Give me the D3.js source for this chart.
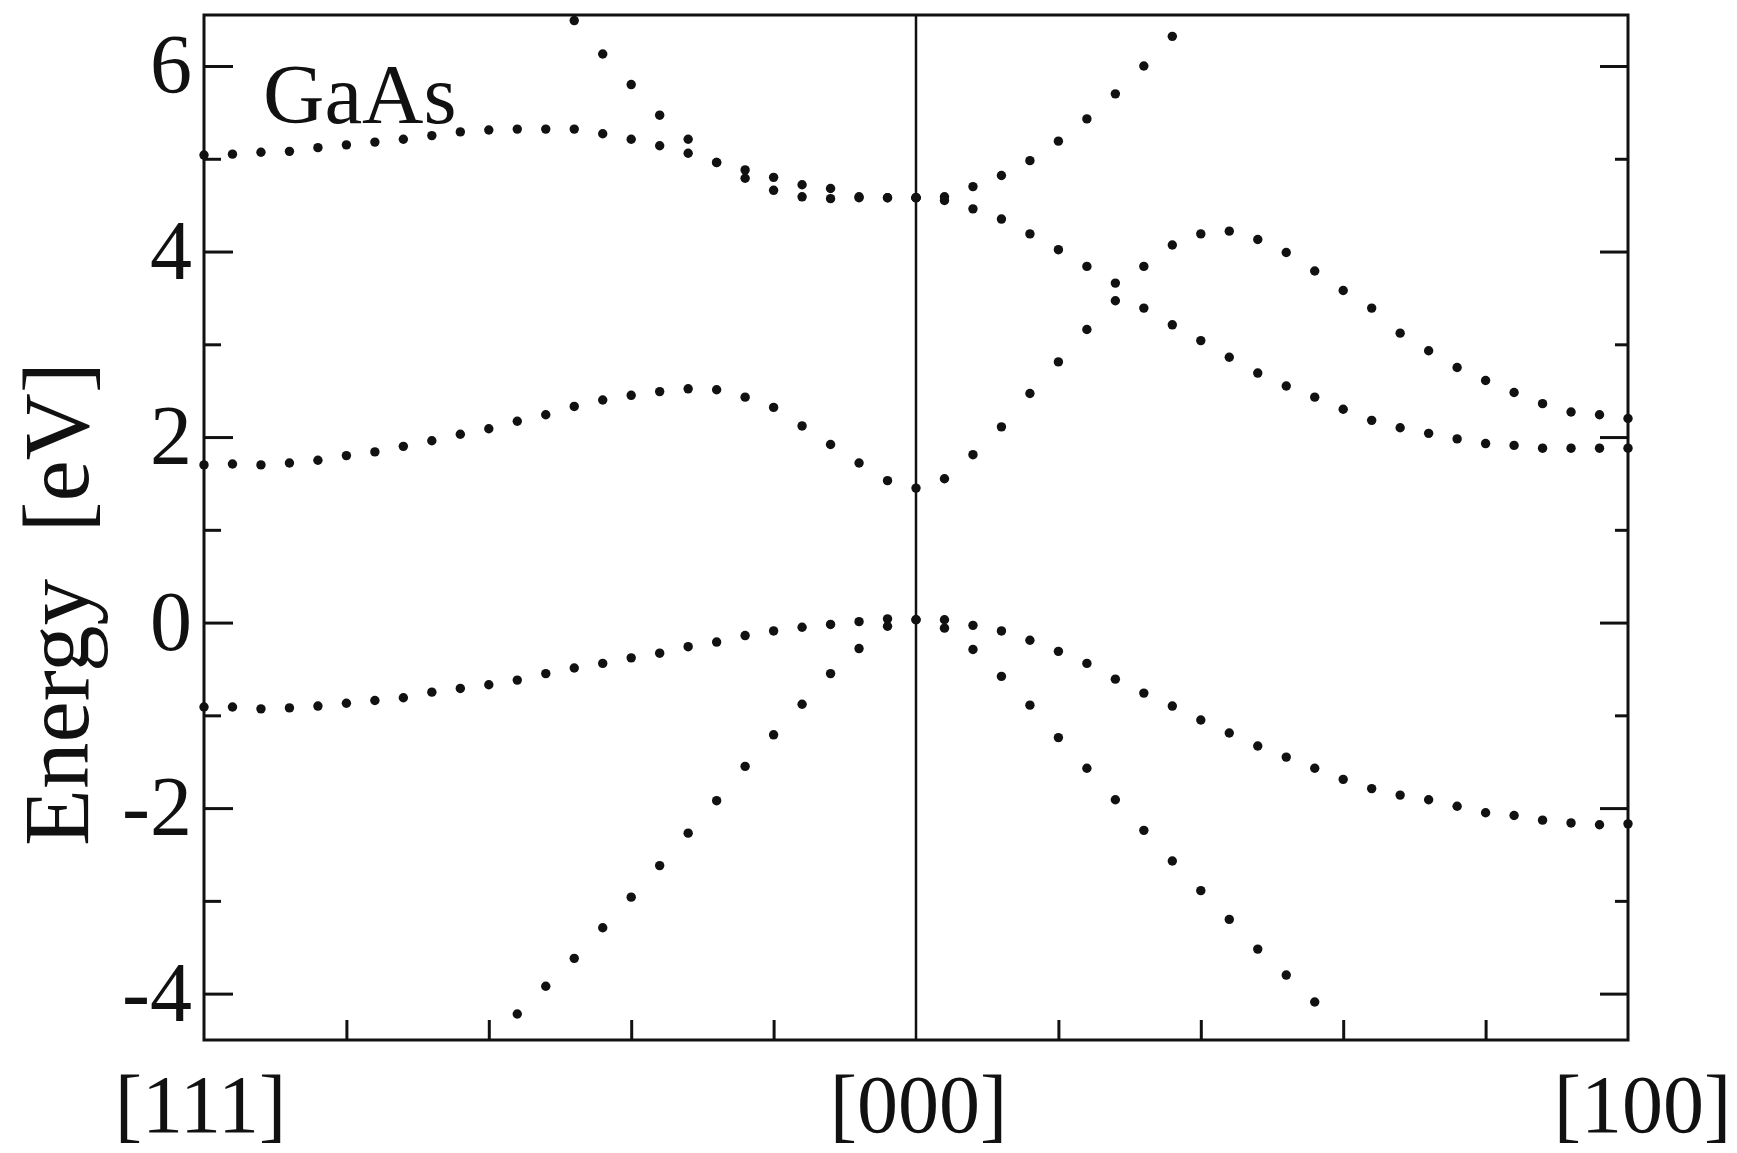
<!DOCTYPE html>
<html>
<head>
<meta charset="utf-8">
<script src="https://cdn.jsdelivr.net/npm/d3@7/dist/d3.min.js"></script>
<style>
body { margin: 0; background: #fff; }
svg { display: block; }
</style>
</head>
<body>
<script>
const WIDTH = 1737;
const HEIGHT = 1153;
const LEFT = 204;
const RIGHT = 1628;
const TOP = 15;
const BOTTOM = 1040;
const FONT = '"Liberation Serif", "Times New Roman", serif';

// k index along the path: -25 = [111], 0 = [000], 25 = [100]
var kLabels = ['[111]', '[000]', '[100]'];
var kLabelPos = [-25, 0, 25];
var kTicks = [-20, -15, -10, -5, 5, 10, 15, 20];
var eMajor = [-4, -2, 0, 2, 4, 6];
var eMinor = [-3, -1, 1, 3, 5];

// lowest conduction band, k = -25 .. 25
var cb1 = [1.70, 1.71, 1.70, 1.72, 1.75, 1.80, 1.84, 1.90, 1.96, 2.03, 2.09, 2.17, 2.24,
	2.33, 2.40, 2.45, 2.49, 2.52, 2.51, 2.43, 2.32, 2.12, 1.92, 1.72, 1.53, 1.45,
	1.55, 1.81, 2.11, 2.47, 2.81, 3.16, 3.47, 3.84, 4.07, 4.19, 4.22, 4.13, 3.99,
	3.79, 3.58, 3.39, 3.12, 2.93, 2.75, 2.61, 2.48, 2.36, 2.27, 2.24, 2.20];

// top valence band (heavy holes), k = -25 .. 25
var hh = [-0.91, -0.91, -0.93, -0.92, -0.90, -0.87, -0.84, -0.81, -0.75, -0.71, -0.67, -0.62, -0.55,
	-0.49, -0.44, -0.38, -0.33, -0.26, -0.21, -0.14, -0.09, -0.05, -0.02, 0.01, 0.04, 0.03,
	0.03, -0.03, -0.09, -0.19, -0.31, -0.44, -0.61, -0.76, -0.90, -1.05, -1.19, -1.33, -1.45,
	-1.57, -1.69, -1.79, -1.86, -1.91, -1.98, -2.05, -2.08, -2.13, -2.16, -2.18, -2.17];

// light holes, k = -14 .. 14
var lh = [-4.22, -3.92, -3.62, -3.29, -2.96, -2.62, -2.27, -1.92, -1.55, -1.21, -0.88, -0.55, -0.28, -0.04,
	0.03,
	-0.06, -0.29, -0.58, -0.89, -1.24, -1.57, -1.91, -2.24, -2.57, -2.89, -3.20, -3.52, -3.80, -4.09];

// upper conduction bands
var c2Left = [5.04, 5.05, 5.07, 5.08, 5.12, 5.15, 5.18, 5.21, 5.25, 5.29, 5.31, 5.32, 5.32,
	5.32, 5.27, 5.21, 5.14, 5.06, 4.96, 4.79, 4.66, 4.59, 4.57, 4.58, 4.58, 4.58];   // k = -25 .. 0
var c3Left = [6.49, 6.13, 5.80, 5.47, 5.21, 4.96, 4.88, 4.80, 4.72, 4.68, 4.59, 4.58, 4.58]; // k = -12 .. 0
var cUpRight = [4.58, 4.59, 4.70, 4.82, 4.98, 5.19, 5.43, 5.70, 6.00, 6.32];                 // k = 0 .. 9
var cDownRight = [4.58, 4.55, 4.46, 4.35, 4.19, 4.02, 3.84, 3.66, 3.39, 3.21, 3.04, 2.86, 2.69,
	2.55, 2.43, 2.30, 2.18, 2.10, 2.04, 1.98, 1.93, 1.91, 1.88, 1.88, 1.88, 1.88];   // k = 0 .. 25

var _svg, _xScale, _yScale;

var createChart = function(){
	_svg = d3.select('body').append('svg')
		.attr('width', WIDTH)
		.attr('height', HEIGHT)
		.style('background', '#fff');

	_xScale = d3.scaleLinear()
		.domain([-25, 25])
		.range([LEFT, RIGHT]);

	_yScale = d3.scaleLinear()
		.domain([-4.5, 6.55])
		.range([BOTTOM, TOP]);
}

var styleAxis = function(g, size){
	g.attr('font-family', FONT)
		.attr('font-size', size)
		.attr('color', '#111');
	g.select('.domain').remove();
	g.selectAll('.tick line').attr('stroke-width', 3);
	g.selectAll('.tick text').attr('fill', '#111');
}

var drawAxes = function(){
	// left major ticks with labels
	_svg.append('g')
		.attr('transform', 'translate(' + LEFT + ',0)')
		.call(d3.axisLeft(_yScale).tickValues(eMajor).tickSize(-29).tickPadding(12)
			.tickFormat(function(d){ return String(d); }))
		.call(styleAxis, 84);

	_svg.append('g')
		.attr('transform', 'translate(' + LEFT + ',0)')
		.call(d3.axisLeft(_yScale).tickValues(eMinor).tickSize(-17).tickFormat(''))
		.call(styleAxis, 10);

	_svg.append('g')
		.attr('transform', 'translate(' + RIGHT + ',0)')
		.call(d3.axisRight(_yScale).tickValues(eMajor).tickSize(-28).tickFormat(''))
		.call(styleAxis, 10);

	_svg.append('g')
		.attr('transform', 'translate(' + RIGHT + ',0)')
		.call(d3.axisRight(_yScale).tickValues(eMinor).tickSize(-13).tickFormat(''))
		.call(styleAxis, 10);

	_svg.append('g')
		.attr('transform', 'translate(0,' + BOTTOM + ')')
		.call(d3.axisBottom(_xScale).tickValues(kTicks).tickSize(-20).tickFormat(''))
		.call(styleAxis, 10);

	var labels = _svg.append('g')
		.attr('transform', 'translate(0,' + BOTTOM + ')')
		.call(d3.axisBottom(_xScale).tickValues(kLabelPos).tickSize(0).tickPadding(34)
			.tickFormat(function(d, i){ return kLabels[i]; }))
		.call(styleAxis, 82);
	labels.selectAll('.tick text')
		.attr('dx', function(d){ return d == 25 ? 14 : (d == -25 ? -4 : 2); });

	// frame and the [000] line
	_svg.append('rect')
		.attr('x', LEFT)
		.attr('y', TOP)
		.attr('width', RIGHT - LEFT)
		.attr('height', BOTTOM - TOP)
		.style('fill', 'none')
		.style('stroke', '#111')
		.style('stroke-width', 3);

	_svg.append('line')
		.attr('x1', _xScale(0))
		.attr('x2', _xScale(0))
		.attr('y1', TOP)
		.attr('y2', BOTTOM)
		.style('stroke', '#111')
		.style('stroke-width', 2.5);

	_svg.append('text')
		.attr('transform', 'translate(88,604) rotate(-90)')
		.attr('text-anchor', 'middle')
		.attr('font-family', FONT)
		.attr('font-size', 93)
		.style('fill', '#111')
		.text('Energy\u00a0 [eV]');

	_svg.append('text')
		.attr('x', 263)
		.attr('y', 123)
		.attr('font-family', FONT)
		.attr('font-size', 85)
		.style('fill', '#111')
		.text('GaAs');
}

var loadBands = function(){
	var bands = [
		{start: -25, values: cb1},
		{start: -25, values: hh},
		{start: -14, values: lh},
		{start: -25, values: c2Left},
		{start: -12, values: c3Left},
		{start: 0, values: cUpRight},
		{start: 0, values: cDownRight}
	];

	var points = [];
	bands.forEach(function(b){
		b.values.forEach(function(e, i){
			points.push({k: b.start + i, e: e});
		});
	});

	_svg.append('g')
		.selectAll('circle')
		.data(points)
		.enter().append('circle')
		.attr('cx', function(d){ return _xScale(d.k); })
		.attr('cy', function(d){ return _yScale(d.e); })
		.attr('r', 4.7)
		.style('fill', '#111');
}

window.onload = function(){
	createChart();
	drawAxes();
	loadBands();
}
</script>
</body>
</html>
